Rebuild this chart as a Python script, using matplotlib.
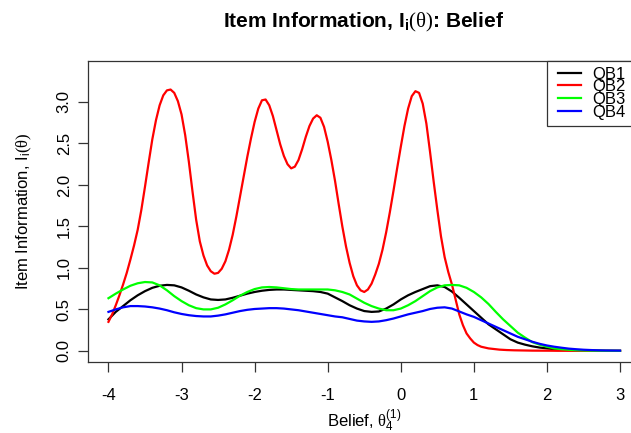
import matplotlib
matplotlib.use('Agg')
import matplotlib.pyplot as plt
import matplotlib.patches as patches
import numpy as np

plt.rcParams['font.family'] = 'Liberation Sans'
plt.rcParams['mathtext.fontset'] = 'custom'
plt.rcParams['mathtext.rm'] = 'Liberation Serif'
plt.rcParams['mathtext.sf'] = 'Liberation Sans'
plt.rcParams['mathtext.bf'] = 'Liberation Sans:bold'
plt.rcParams['mathtext.it'] = 'Liberation Serif:italic'
plt.rcParams['axes.unicode_minus'] = False

# theta grids: QB2 is sharply peaked, so it gets the finer grid
theta = np.round(np.arange(-4.0, 3.001, 0.1), 2)
theta_fine = np.round(np.arange(-4.0, 3.001, 0.05), 2)

qb1 = [0.38, 0.47, 0.54, 0.61, 0.67, 0.72, 0.76, 0.785, 0.795, 0.79,
       0.765, 0.725, 0.68, 0.645, 0.62, 0.614, 0.62, 0.64, 0.665, 0.69,
       0.71, 0.725, 0.735, 0.74, 0.74, 0.735, 0.73, 0.725, 0.72, 0.71,
       0.69, 0.645, 0.60, 0.55, 0.51, 0.48, 0.47, 0.475, 0.51, 0.56,
       0.62, 0.67, 0.71, 0.745, 0.78, 0.79, 0.77, 0.715, 0.64, 0.56,
       0.48, 0.40, 0.32, 0.26, 0.20, 0.14, 0.10, 0.075, 0.055, 0.04,
       0.03, 0.02, 0.014, 0.01, 0.007, 0.005, 0.003, 0.002, 0.001, 0.001, 0.001]
qb2 = [0.35, 0.44, 0.55, 0.67, 0.80, 0.94, 1.10, 1.27, 1.46, 1.70,
       1.98, 2.27, 2.55, 2.78, 2.96, 3.08, 3.14, 3.15, 3.11, 3.01,
       2.85, 2.60, 2.28, 1.92, 1.58, 1.32, 1.15, 1.03, 0.96, 0.93,
       0.94, 0.99, 1.08, 1.22, 1.40, 1.62, 1.86, 2.10, 2.34, 2.56,
       2.76, 2.92, 3.02, 3.03, 2.96, 2.83, 2.66, 2.49, 2.35, 2.25,
       2.20, 2.22, 2.30, 2.43, 2.58, 2.71, 2.80, 2.84, 2.81, 2.70,
       2.52, 2.30, 2.05, 1.77, 1.50, 1.26, 1.06, 0.90, 0.79, 0.73,
       0.71, 0.74, 0.81, 0.92, 1.05, 1.22, 1.43, 1.67, 1.93, 2.20,
       2.46, 2.71, 2.92, 3.07, 3.13, 3.11, 2.98, 2.74, 2.40, 2.04,
       1.70, 1.38, 1.13, 0.95, 0.80, 0.62, 0.44, 0.31, 0.21, 0.15,
       0.10, 0.07, 0.05, 0.04, 0.03, 0.025, 0.02, 0.015, 0.012, 0.01,
       0.008, 0.007, 0.006, 0.005, 0.004, 0.004, 0.003, 0.003, 0.002, 0.002,
       0.002, 0.002, 0.001, 0.001, 0.001, 0.001, 0.001, 0.001, 0.0, 0.0,
       0.0, 0.0, 0.0, 0.0, 0.0, 0.0, 0.0, 0.0, 0.0, 0.0,
       0.0]
qb3 = [0.635, 0.69, 0.74, 0.785, 0.815, 0.83, 0.825, 0.79, 0.73, 0.66,
       0.60, 0.55, 0.515, 0.50, 0.50, 0.52, 0.56, 0.61, 0.665, 0.71,
       0.745, 0.765, 0.77, 0.765, 0.755, 0.745, 0.74, 0.74, 0.74, 0.74,
       0.74, 0.73, 0.71, 0.68, 0.63, 0.58, 0.54, 0.51, 0.49, 0.49,
       0.51, 0.55, 0.60, 0.66, 0.72, 0.765, 0.79, 0.795, 0.79, 0.76,
       0.71, 0.645, 0.565, 0.47, 0.38, 0.30, 0.22, 0.16, 0.105, 0.075,
       0.05, 0.03, 0.02, 0.013, 0.008, 0.005, 0.003, 0.002, 0.001, 0.001, 0.0]
qb4 = [0.47, 0.50, 0.525, 0.54, 0.54, 0.535, 0.525, 0.51, 0.49, 0.465,
       0.445, 0.43, 0.42, 0.415, 0.415, 0.425, 0.44, 0.46, 0.48, 0.495,
       0.505, 0.51, 0.515, 0.515, 0.51, 0.50, 0.49, 0.475, 0.46, 0.445,
       0.43, 0.415, 0.405, 0.385, 0.365, 0.355, 0.35, 0.355, 0.37, 0.39,
       0.415, 0.44, 0.46, 0.48, 0.505, 0.52, 0.525, 0.51, 0.475, 0.44,
       0.41, 0.37, 0.33, 0.29, 0.25, 0.21, 0.17, 0.14, 0.11, 0.085,
       0.065, 0.05, 0.038, 0.027, 0.02, 0.014, 0.01, 0.007, 0.005, 0.004, 0.003]

items = ['QB1', 'QB2', 'QB3', 'QB4']
colors = ['black', 'red', '#00ff00', 'blue']
grids = [theta, theta_fine, theta, theta]

W, H = 631, 433
fig = plt.figure(figsize=(W / 100, H / 100), dpi=100)
ax = fig.add_axes([88 / W, 71 / H, 552.5 / W, 301 / H])

for x, vals, name, col in zip(grids, [qb1, qb2, qb3, qb4], items, colors):
    ax.plot(x, vals, color=col, lw=1.6, label=name)

ax.set_xlim(-4.28, 3.28)
ax.set_ylim(-0.134, 3.494)
ax.set_xticks(range(-4, 4))
ax.set_yticks(np.arange(0, 3.01, 0.5))
ax.set_yticklabels(['%.1f' % v for v in np.arange(0, 3.01, 0.5)],
                   rotation=90, va='center')
ax.tick_params(direction='out', length=7.2, width=0.9, labelsize=12,
               color='#333333')
ax.tick_params(axis='x', pad=11.5)
ax.tick_params(axis='y', pad=4.5)
for s in ax.spines.values():
    s.set_color('#333333')
    s.set_linewidth(0.9)

# axis titles and main title placed on R-style margin lines
fig.text(364 / W, (H - 427) / H, r'Belief, $\mathrm{\theta}_\mathsf{4}^\mathsf{(1)}$',
         fontsize=12, ha='center', va='baseline')
fig.text(28 / W, (H - 211.5) / H, r'Item Information, $\mathsf{I}_\mathsf{i}\mathrm{(\theta)}$',
         fontsize=12, ha='center', va='baseline', rotation=90,
         rotation_mode='anchor')
fig.text(364 / W, (H - 27) / H,
         r'Item Information, $\mathbf{I}_\mathbf{i}\mathrm{(\theta)}$: Belief',
         fontsize=15, fontweight='bold', ha='center', va='baseline')

# legend box
box = patches.Rectangle((547 / W, (H - 126) / H), 100 / W, 65 / H,
                        transform=fig.transFigure, facecolor='white',
                        edgecolor='#333333', linewidth=0.9, zorder=4)
fig.patches.append(box)
handles, labels = ax.get_legend_handles_labels()
fig.legend(handles, labels, loc='upper left',
           bbox_to_anchor=(558 / W, (H - 66.5) / H),
           frameon=False, fontsize=12, labelspacing=-0.14,
           handlelength=1.38, handletextpad=0.66, borderpad=0,
           borderaxespad=0)

fig.savefig('out.png', dpi=100)
